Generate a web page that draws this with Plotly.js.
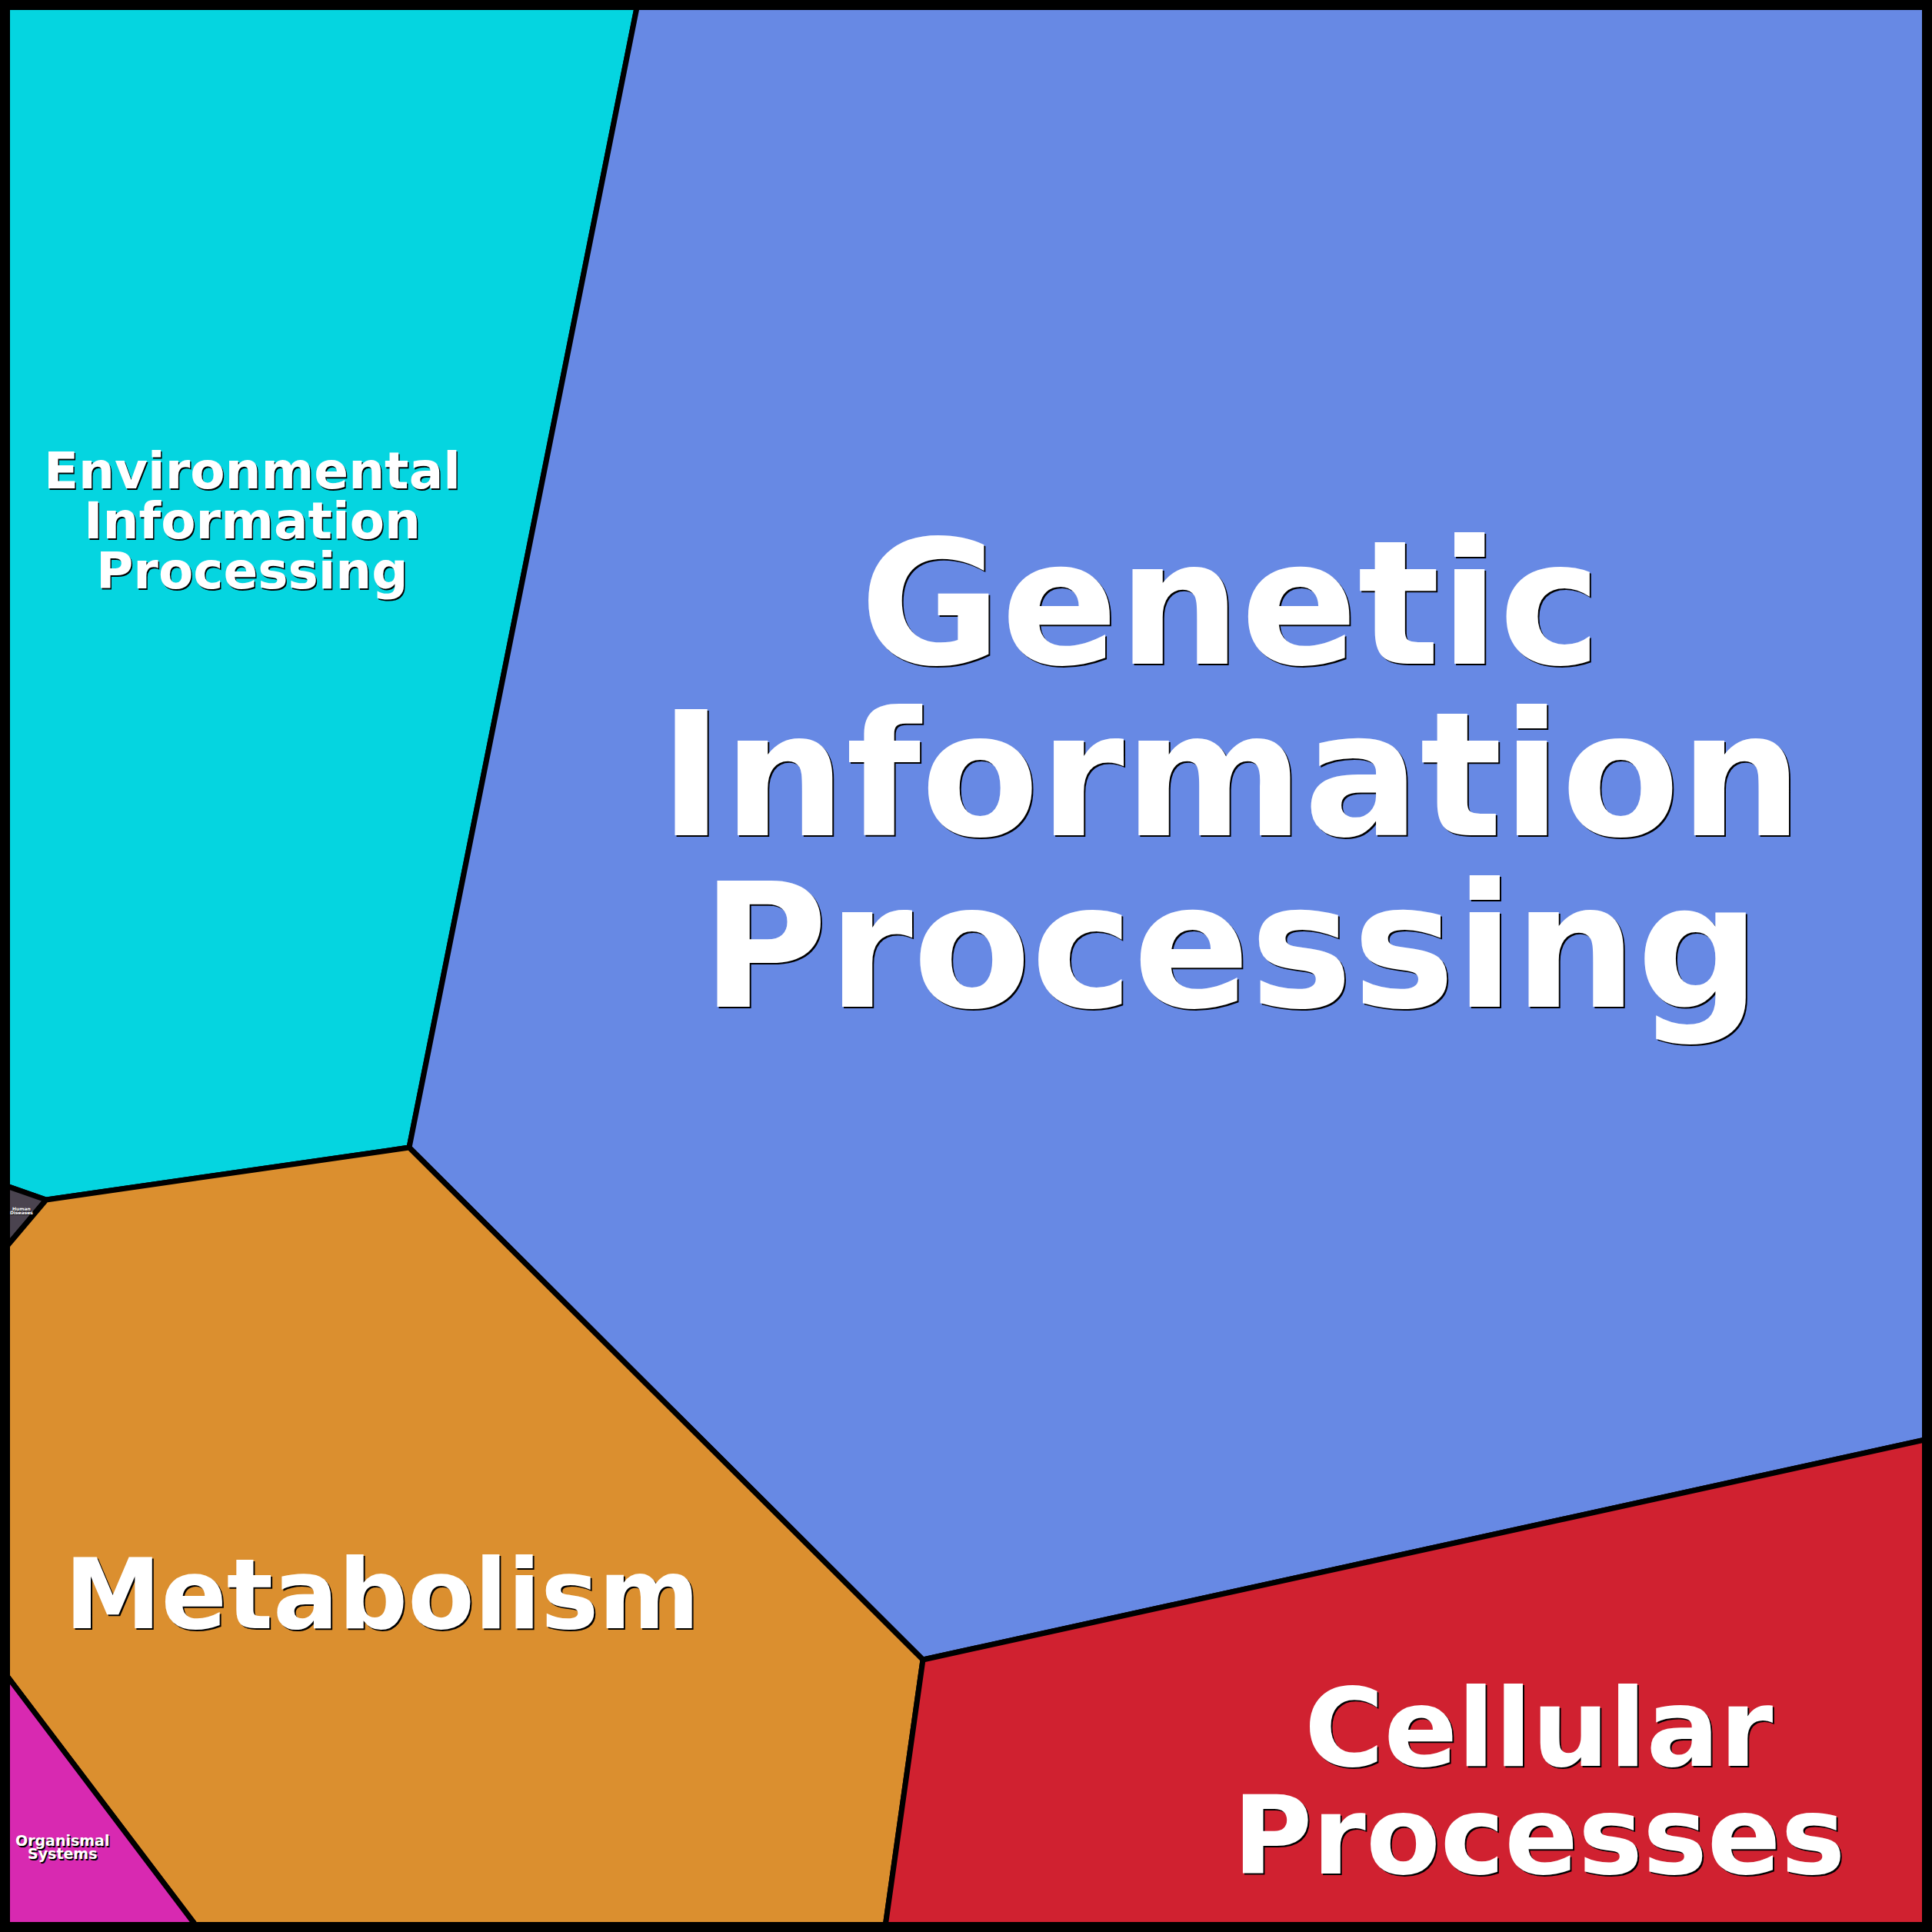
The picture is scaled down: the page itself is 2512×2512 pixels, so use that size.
<!DOCTYPE html>
<html>
<head>
<meta charset="utf-8">
<script src="https://cdn.plot.ly/plotly-3.0.1.min.js"></script>
<style>html,body{margin:0;padding:0;background:#fff;}#chart{width:2512px;height:2512px;}</style>
</head>
<body>
<div id="chart"></div>
<script>
// Voronoi treemap cells (KEGG top-level categories)
const cellNames = ["Environmental Information Processing", "Genetic Information Processing", "Human Diseases", "Metabolism", "Cellular Processes", "Organismal Systems"];
const cellColors = ["#05D5E0", "#6789E4", "#4A434F", "#DB8F2F", "#D02130", "#D829B1"];
const cellX = [
  [0, 830, 532, 60, 0],
  [830, 2512, 2512, 1200, 532],
  [0, 60, 0],
  [0, 60, 532, 1200, 1150, 261, 0],
  [1200, 2512, 2512, 1150],
  [0, 261, 0]
];
const cellY = [
  [0, 0, 1492, 1560, 1539],
  [0, 0, 1870, 2158, 1492],
  [1539, 1560, 1631],
  [1631, 1560, 1492, 2158, 2512, 2512, 2167],
  [2158, 1870, 2512, 2512],
  [2167, 2512, 2512]
];
// Labels
const labelLines = [
  ["Environmental", "Information", "Processing"],
  ["Genetic", "Information", "Processing"],
  ["Human", "Diseases"],
  ["Metabolism"],
  ["Cellular", "Processes"],
  ["Organismal", "Systems"]
];
const labelX = [328, 1600, 28, 497, 2001, 81];
const labelBaseline = [636, 864, 1574, 2118, 2296, 2400];
const labelSize = [66, 224, 6, 126, 141, 19];
const labelGap = [65, 223, 5, 0, 140, 17];

const traces = cellNames.map((n, i) => ({
  type: "scatter",
  mode: "lines",
  x: cellX[i].concat([cellX[i][0]]),
  y: cellY[i].concat([cellY[i][0]]),
  fill: "toself",
  fillcolor: cellColors[i],
  line: {color: "#000", width: 7},
  name: n,
  hoverinfo: "skip",
  showlegend: false
}));

const annotations = [];
labelLines.forEach((lines, i) => {
  const fs = labelSize[i];
  const sh = fs > 100 ? "2px 2px 0px #000" : (fs > 10 ? "1.5px 1.5px 0px #000" : "0.5px 0.5px 0px #000");
  lines.forEach((t, k) => {
    const base = labelBaseline[i] + k * labelGap[i];
    annotations.push({
      x: labelX[i], y: base - 0.35 * fs,
      xref: "x", yref: "y",
      text: t, showarrow: false,
      xanchor: "center", yanchor: "middle",
      font: {family: "DejaVu Sans", size: fs, color: "#fff", weight: 700, shadow: sh}
    });
  });
});

const layout = {
  width: 2512, height: 2512,
  margin: {l: 0, r: 0, t: 0, b: 0, pad: 0},
  paper_bgcolor: "#fff", plot_bgcolor: "#fff",
  xaxis: {range: [0, 2512], visible: false, fixedrange: true},
  yaxis: {range: [2512, 0], visible: false, fixedrange: true},
  annotations: annotations,
  shapes: [{type: "rect", xref: "paper", yref: "paper", x0: 0, x1: 1, y0: 0, y1: 1, line: {color: "#000", width: 26}, layer: "above"}],
  showlegend: false
};

Plotly.newPlot("chart", traces, layout, {staticPlot: true, displayModeBar: false});
</script>
</body>
</html>
